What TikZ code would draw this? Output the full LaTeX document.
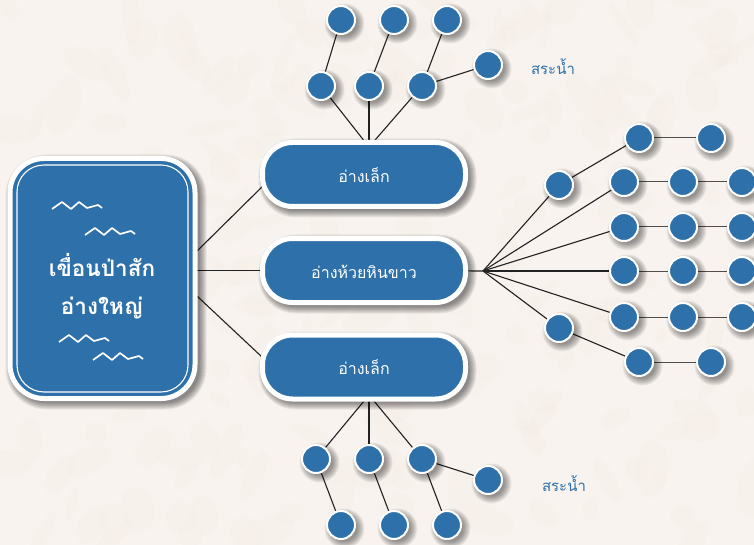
\documentclass[tikz,border=0pt]{standalone}
\usepackage{fontspec}
\newfontfamily\thaifont[Script=Thai]{Loma}
\usetikzlibrary{backgrounds}
\definecolor{paper}{HTML}{F8F3EE}
\definecolor{paperdark}{HTML}{F4EAE2}
\definecolor{lake}{HTML}{2E71AA}
\definecolor{ink}{HTML}{222222}
\newcommand{\softboxshadow}[5]{%
  \foreach \e in {-2,...,5}{%
    \pgfmathsetmacro{\rr}{#5+\e}%
    \fill[black,opacity=.065,rounded corners=\rr pt] (#1+3.5-\e,#2+3.5-\e) rectangle (#3+3.5+\e,#4+3.5+\e);%
  }}
\tikzset{
  pondnode/.style={circle,fill=lake,draw=white,line width=2pt,minimum size=28pt,inner sep=0pt},
  pillnode/.style={rectangle,rounded corners=30pt,fill=lake,draw=white,line width=5pt,minimum width=203pt,minimum height=64pt,
    text=white,font=\thaifont\fontsize{16}{18}\selectfont,inner sep=0pt},
  damnode/.style={rectangle,rounded corners=34pt,fill=lake,draw=white,line width=5pt,minimum width=185pt,minimum height=240pt,
    inner sep=0pt},
  link/.style={draw=ink,line width=1.1pt},
  rowlink/.style={draw=ink!80,line width=1pt},
  wavestroke/.style={draw=white,line width=1.7pt,line join=round},
  pondlabel/.style={text=lake,font=\thaifont\fontsize{15}{18}\selectfont,inner sep=0pt},
  damlabel/.style={text=white,font=\thaifont\bfseries\fontsize{22.5}{38}\selectfont,align=center,inner sep=0pt},
  wave/.pic={\draw[wavestroke] (0,0)--(10,-7)--(19,0)--(27,-7)--(35,-1)--(46,-4)--(50,-1);}
}
\begin{document}
\begin{tikzpicture}[x=1pt,y=-1pt]
\useasboundingbox (0,0) rectangle (754,545);
% junction points, hidden behind the boxes or free
\coordinate (topj) at (369,147);
\coordinate (botj) at (369,395);
\coordinate (fan) at (483,271);
\coordinate (damout1) at (190,258);
\coordinate (damout2) at (190,270.5);
\coordinate (damout3) at (190,289.5);
\coordinate (pin1) at (270,179);
\coordinate (pin3) at (270,364.5);

% top group
\node[pondnode] (t1) at (341,20) {};
\node[pondnode] (t2) at (394,20) {};
\node[pondnode] (t3) at (447,20) {};
\node[pondnode] (t4) at (321,86) {};
\node[pondnode] (t5) at (369,86) {};
\node[pondnode] (t6) at (422,86) {};
\node[pondnode] (t7) at (488,65) {};
% bottom group
\node[pondnode] (b1) at (316,459) {};
\node[pondnode] (b2) at (369,459) {};
\node[pondnode] (b3) at (422,459) {};
\node[pondnode] (b4) at (488,480) {};
\node[pondnode] (b5) at (341,525) {};
\node[pondnode] (b6) at (394,525) {};
\node[pondnode] (b7) at (447,525) {};
% right group
\node[pondnode] (r1) at (559,185) {};
\node[pondnode] (r2) at (559,328) {};
\node[pondnode] (u1) at (639,138) {};
\node[pondnode] (u2) at (711,138) {};
\node[pondnode] (a1) at (624,182) {};
\node[pondnode] (a2) at (683,182) {};
\node[pondnode] (a3) at (742,182) {};
\node[pondnode] (c1) at (624,227) {};
\node[pondnode] (c2) at (683,227) {};
\node[pondnode] (c3) at (742,227) {};
\node[pondnode] (d1) at (624,271) {};
\node[pondnode] (d2) at (683,271) {};
\node[pondnode] (d3) at (742,271) {};
\node[pondnode] (e1) at (624,317) {};
\node[pondnode] (e2) at (683,317) {};
\node[pondnode] (e3) at (742,317) {};
\node[pondnode] (v1) at (639,362) {};
\node[pondnode] (v2) at (711,362) {};

% pills and the dam box
\node[pillnode] (p1) at (364,174.5) {\raisebox{-8.5pt}[0pt][0pt]{อ่างเล็ก}};
\node[pillnode] (p2) at (364,270.5) {\raisebox{-7.5pt}[0pt][0pt]{อ่างห้วยหินขาว}};
\node[pillnode] (p3) at (364,367) {\raisebox{-7pt}[0pt][0pt]{อ่างเล็ก}};
\node[damnode] (dam) at (102.5,278.5) {};
\draw[white,line width=1.1pt,rounded corners=27pt] (17,165) rectangle (188,392);
\node[damlabel] (damtext) at (102,286) {เขื่อนป่าสัก\\อ่างใหญ่};
\pic at (52,209) {wave};
\pic at (85,235) {wave};
\pic at (59,342) {wave};
\pic at (93,360) {wave};

\node[pondlabel] (lab1) at (553,67) {สระน้ำ};
\node[pondlabel] (lab2) at (564,484) {สระน้ำ};

\begin{scope}[on background layer]
\fill[paper] (0,0) rectangle (754,545);
\pgfmathsetseed{4217}
\foreach \i in {1,...,220}{
  \pgfmathsetmacro{\px}{random(0,754)}
  \pgfmathsetmacro{\py}{random(0,545)}
  \pgfmathsetmacro{\ra}{random(8,30)}
  \pgfmathsetmacro{\rb}{random(5,16)}
  \pgfmathsetmacro{\rot}{random(0,180)}
  \fill[paperdark,opacity=.15,rotate around={\rot:(\px,\py)}] (\px,\py) ellipse [x radius=\ra,y radius=\rb];
}
% connectors lie under every node
\draw[link] (damout1) -- (pin1);
\draw[link] (damout2) -- (p2);
\draw[link] (damout3) -- (pin3);
\draw[link] (t4) -- (topj);
\draw[link] (t5) -- (topj);
\draw[link] (t6) -- (topj);
\draw[link] (t4) -- (t1);
\draw[link] (t5) -- (t2);
\draw[link] (t6) -- (t3);
\draw[link] (t6) -- (t7);
\draw[link] (b1) -- (botj);
\draw[link] (b2) -- (botj);
\draw[link] (b3) -- (botj);
\draw[link] (b1) -- (b5);
\draw[link] (b2) -- (b6);
\draw[link] (b3) -- (b7);
\draw[link] (b3) -- (b4);
\draw[link] (p2) -- (fan);
\foreach \n in {r1,r2,a1,c1,d1,e1}{\draw[link] (fan) -- (\n);}
\draw[link] (r1) -- (u1);
\draw[link] (r2) -- (v1);
\draw[rowlink] (u1) -- (u2);
\draw[rowlink] (v1) -- (v2);
\foreach \r in {a,c,d,e}{
  \draw[rowlink] (\r1) -- (\r2);
  \draw[rowlink] (\r2) -- (\r3);
}
% soft shadows
\foreach \n in {t1,t2,t3,t4,t5,t6,t7,b1,b2,b3,b4,b5,b6,b7,r1,r2,u1,u2,a1,a2,a3,c1,c2,c3,d1,d2,d3,e1,e2,e3,v1,v2}{
  \foreach \s in {13,14,...,20}{
    \fill[black,opacity=.06] ([shift={(3.5,3.5)}]\n.center) circle [radius=\s];
  }
}
\softboxshadow{260}{140}{468}{209}{32}
\softboxshadow{260}{236}{468}{305}{32}
\softboxshadow{260}{333}{468}{401}{32}
\softboxshadow{7}{156}{198}{401}{36}
\end{scope}
\end{tikzpicture}
\end{document}
